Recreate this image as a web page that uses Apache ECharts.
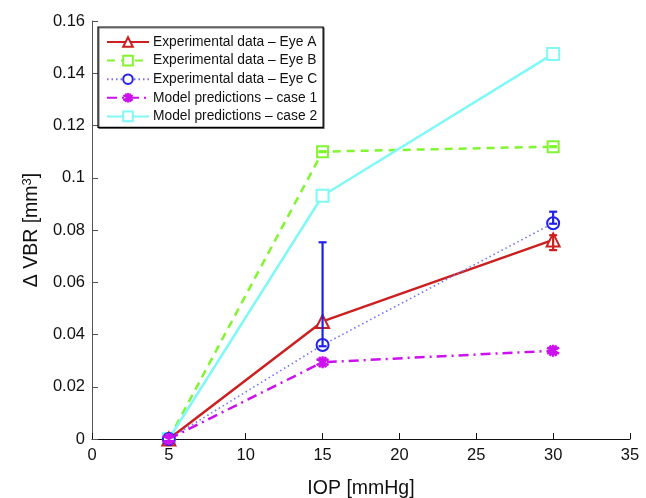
<!DOCTYPE html>
<html>
<head>
<meta charset="utf-8">
<script src="https://cdn.jsdelivr.net/npm/echarts@6/dist/echarts.min.js"></script>
<style>
  html, body { margin: 0; padding: 0; background: #fff; }
  #chart { width: 646px; height: 498px; }
</style>
</head>
<body>
<div id="chart"></div>
<script>
// Intraocular pressure levels (mmHg)
const iop = [5, 15, 30];

// Change in vitreous-body-related volume (mm^3) per series
const eyeA = [0, 0.045, 0.0762];
const eyeB = [0, 0.110, 0.1119];
const eyeC = [0, 0.036, 0.0826];
const case1 = [0, 0.0294, 0.0338];
const case2 = [0, 0.0931, 0.1474];

// Error bars: [iop, low, high]
const eyeAErr = [[30, 0.0723, 0.0780]];
const eyeBErr = [[15, 0.1098, 0.1102], [30, 0.1117, 0.1121]];
const eyeCErr = [[15, 0.0355, 0.0753], [30, 0.0824, 0.0870]];

const xTicks = [0, 5, 10, 15, 20, 25, 30, 35];
const yTicks = [0, 0.02, 0.04, 0.06, 0.08, 0.1, 0.12, 0.14, 0.16];

const names = [
  'Experimental data – Eye A',
  'Experimental data – Eye B',
  'Experimental data – Eye C',
  'Model predictions – case 1',
  'Model predictions – case 2'
];

const colA = '#cc2020';
const colB = '#80f530';
const colC = '#2020ee';
const colCLine = '#7070ff';
const col1 = '#cc10ee';
const col2 = '#80f8f8';

const pairs = arr => iop.map((x, i) => [x, arr[i]]);

const asterisk = 'path://M0,-10L0,10M-8.7,-5L8.7,5M-8.7,5L8.7,-5M-5,-8.7L5,8.7M-5,8.7L5,-8.7';

function errSeries(data, color) {
  return {
    type: 'custom',
    data: data,
    z: 5,
    silent: true,
    renderItem: function (params, api) {
      const x = api.value(0);
      const lo = api.coord([x, api.value(1)]);
      const hi = api.coord([x, api.value(2)]);
      const w = 4;
      const style = { stroke: color, lineWidth: 2.2, fill: null };
      return {
        type: 'group',
        children: [
          { type: 'line', shape: { x1: lo[0], y1: lo[1], x2: hi[0], y2: hi[1] }, style: style },
          { type: 'line', shape: { x1: lo[0] - w, y1: lo[1], x2: lo[0] + w, y2: lo[1] }, style: style },
          { type: 'line', shape: { x1: hi[0] - w, y1: hi[1], x2: hi[0] + w, y2: hi[1] }, style: style }
        ]
      };
    }
  };
}

const font = '"Liberation Sans", Arial, Helvetica, sans-serif';

const chart = echarts.init(document.getElementById('chart'), null, { renderer: 'canvas' });

chart.setOption({
  animation: false,
  backgroundColor: '#fff',
  textStyle: { fontFamily: font },
  grid: { left: 92, right: 16, top: 21, bottom: 59, containLabel: false, outerBoundsMode: 'none' },
  xAxis: {
    type: 'value',
    min: xTicks[0],
    max: xTicks[xTicks.length - 1],
    interval: 5,
    name: 'IOP [mmHg]',
    nameLocation: 'middle',
    nameGap: 40,
    nameTextStyle: { fontSize: 19.5, color: '#111', fontFamily: font },
    axisLine: { show: true, lineStyle: { color: '#111', width: 1 } },
    axisTick: { show: true, inside: true, length: 6, lineStyle: { color: '#111' } },
    axisLabel: { fontSize: 16.5, color: '#111', margin: 8, fontFamily: font },
    splitLine: { show: false }
  },
  yAxis: {
    type: 'value',
    min: yTicks[0],
    max: yTicks[yTicks.length - 1],
    interval: 0.02,
    name: '{a|Δ VBR [mm}{s|3}{a|]}',
    nameLocation: 'middle',
    nameGap: 49,
    nameRotate: 90,
    nameTextStyle: {
      color: '#111',
      rich: {
        a: { fontSize: 19.5, fontFamily: font, color: '#111' },
        s: { fontSize: 13, fontFamily: font, color: '#111', verticalAlign: 'top', padding: [0, 0, 9, 0] }
      }
    },
    axisLine: { show: true, lineStyle: { color: '#555', width: 1 } },
    axisTick: { show: true, inside: true, length: 6, lineStyle: { color: '#555' } },
    axisLabel: { fontSize: 16.5, color: '#111', margin: 7, fontFamily: font },
    splitLine: { show: false }
  },
  legend: {
    data: names,
    orient: 'vertical',
    left: 98,
    top: 27,
    itemWidth: 42,
    itemHeight: 12,
    itemGap: 4.6,
    padding: [8, 6, 4, 8],
    borderColor: '#000',
    borderWidth: 1.2,
    backgroundColor: '#fff',
    shadowColor: 'rgba(0,0,0,0.5)',
    shadowOffsetX: 1,
    shadowOffsetY: 1,
    shadowBlur: 0,
    textStyle: { fontSize: 13.8, color: '#111', fontFamily: font, padding: [0, 0, 0, -1] }
  },
  series: [
    {
      name: names[0], type: 'line', data: pairs(eyeA), z: 4,
      symbol: 'emptyTriangle', symbolSize: 13,
      lineStyle: { color: colA, width: 2.5, type: 'solid' },
      itemStyle: { color: colA, borderColor: colA, borderWidth: 2 }
    },
    {
      name: names[1], type: 'line', data: pairs(eyeB), z: 3,
      symbol: 'emptyRect', symbolSize: 11,
      lineStyle: { color: colB, width: 2.5, type: [8, 6] },
      itemStyle: { color: colB, borderColor: colB, borderWidth: 2 }
    },
    {
      name: names[2], type: 'line', data: pairs(eyeC), z: 4,
      symbol: 'emptyCircle', symbolSize: 12,
      lineStyle: { color: colCLine, width: 1.6, type: [1.5, 3] },
      itemStyle: { color: colC, borderColor: colC, borderWidth: 2.2 }
    },
    {
      name: names[3], type: 'line', data: pairs(case1), z: 4,
      symbol: asterisk, symbolSize: 12,
      lineStyle: { color: col1, width: 2.5, type: [10, 5, 2, 5] },
      itemStyle: { color: col1, borderColor: col1, borderWidth: 2.5 }
    },
    {
      name: names[4], type: 'line', data: pairs(case2), z: 3,
      symbol: 'emptyRect', symbolSize: 12,
      lineStyle: { color: col2, width: 2.5, type: 'solid' },
      itemStyle: { color: col2, borderColor: col2, borderWidth: 2.5 }
    },
    errSeries(eyeAErr, colA),
    errSeries(eyeBErr, colB),
    errSeries(eyeCErr, colC)
  ]
});
</script>
</body>
</html>
